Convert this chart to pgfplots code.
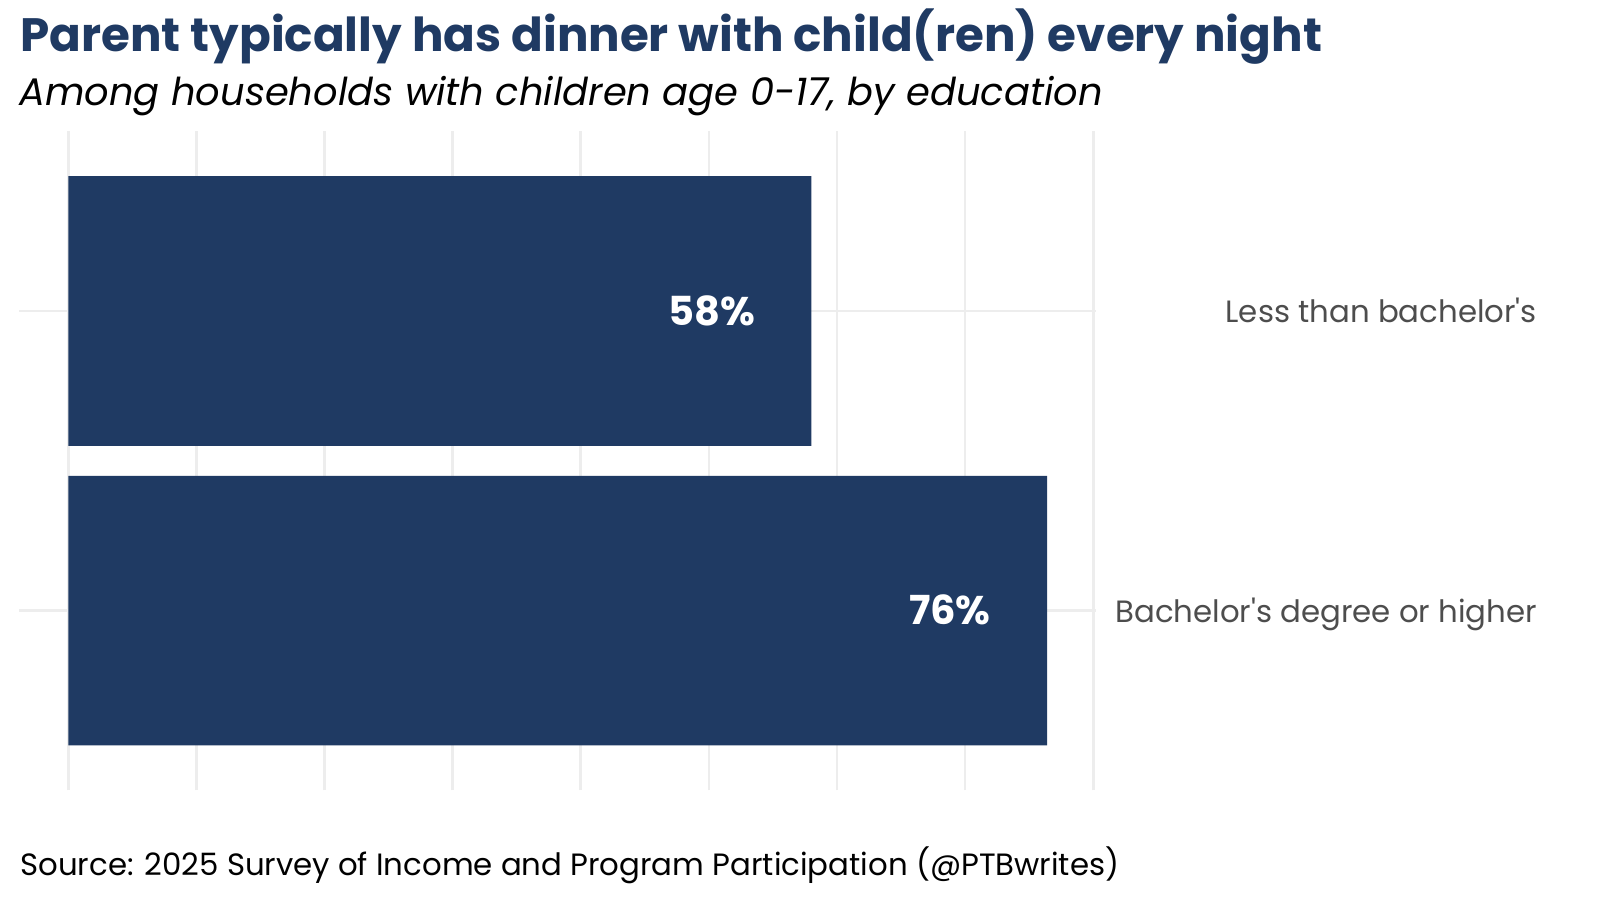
\documentclass[border=0pt]{standalone}
\usepackage{fontspec}
\setmainfont{Poppins}
\usepackage{pgfplots}
\pgfplotsset{compat=1.18}
\definecolor{barnavy}{RGB}{31,58,99}
\definecolor{gridgray}{RGB}{237,237,237}
\definecolor{labgray}{RGB}{77,77,77}
\begin{document}
\begin{tikzpicture}
\path[use as bounding box] (0,0) rectangle (800pt,450pt);
\begin{axis}[
  at={(9.7pt,54.8pt)}, anchor=south west,
  scale only axis, width=538.3pt, height=329.55pt,
  xbar, bar width=0.9,
  xmin=-3.82, xmax=80.22, ymin=0.4, ymax=2.6,
  xtick={0,10,...,80}, xticklabels={},
  ytick={1,2},
  yticklabels={{Bachelor\textquotesingle s degree or higher},{Less than bachelor\textquotesingle s}},
  yticklabel pos=right,
  yticklabel style={anchor=base east, inner sep=0pt, xshift=216.4pt, yshift=-5.7pt,
    font=\fontsize{15.4pt}{18pt}\selectfont, text=labgray},
  xmajorgrids, ymajorgrids,
  grid style={line width=1.35pt, gridgray},
  axis line style={draw=none},
  major tick style={draw=none},
  nodes near coords={\pgfmathprintnumber[fixed,precision=0,assume math mode=true]{\pgfplotspointmeta}\%},
  nodes near coords style={anchor=base east, inner sep=0pt, xshift=-28pt, yshift=-7pt,
    text=white, font=\bfseries\fontsize{20pt}{24pt}\selectfont},
]
\addplot[fill=barnavy, draw=none] coordinates {(76.4,1) (58.0,2)};
\end{axis}
\node[anchor=base west, inner sep=0pt, text=barnavy, font=\bfseries\fontsize{23.4pt}{26pt}\selectfont] at (10pt,424.15pt) {Parent typically has dinner with child(ren) every night};
\node[anchor=base west, inner sep=0pt, text=black, font=\itshape\fontsize{19.2pt}{22pt}\selectfont] at (9.5pt,397pt) {Among households with children age 0-17, by education};
\node[anchor=base west, inner sep=0pt, text=black, font=\fontsize{15.4pt}{18pt}\selectfont] at (10pt,12.5pt) {Source: 2025 Survey of Income and Program Participation (@PTBwrites)};
\end{tikzpicture}
\end{document}
